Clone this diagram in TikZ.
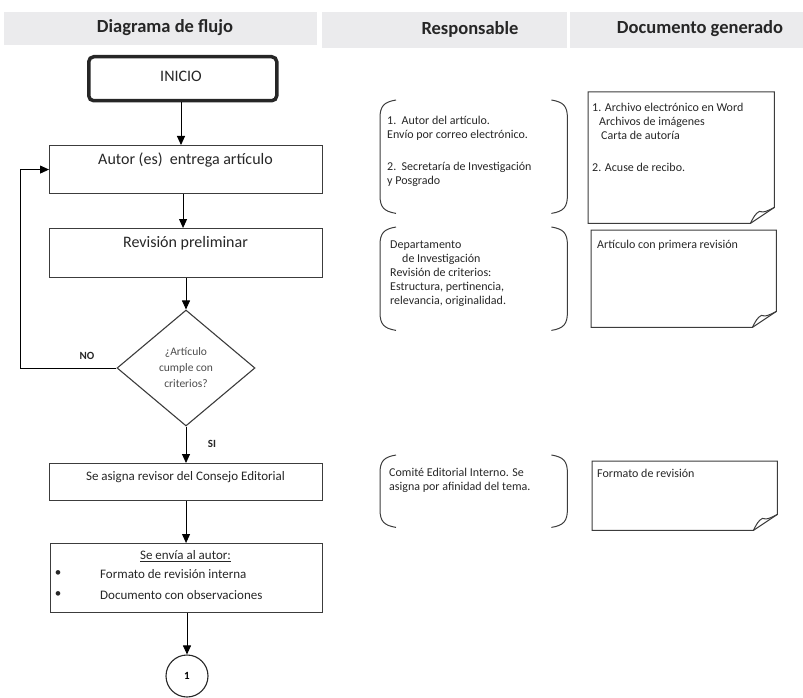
\documentclass[tikz,border=0pt]{standalone}
\usepackage{fontspec}
\setmainfont{Carlito}
\usetikzlibrary{arrows.meta,shapes.geometric,calc}
\definecolor{hdgray}{HTML}{EBEBED}
\definecolor{ln}{HTML}{3C3C3C}
\newcommand\drawbrk[1]{%
 \draw[brk] ([xshift=16pt]#1.north west) .. controls ([xshift=4pt,yshift=-2pt]#1.north west) and ([yshift=-6pt]#1.north west) .. ([yshift=-18pt]#1.north west) -- ([yshift=18pt]#1.south west) .. controls ([yshift=6pt]#1.south west) and ([xshift=4pt,yshift=2pt]#1.south west) .. ([xshift=16pt]#1.south west);
 \draw[brk] ([xshift=-16pt]#1.north east) .. controls ([xshift=-4pt,yshift=-2pt]#1.north east) and ([yshift=-6pt]#1.north east) .. ([yshift=-18pt]#1.north east) -- ([yshift=18pt]#1.south east) .. controls ([yshift=6pt]#1.south east) and ([xshift=-4pt,yshift=2pt]#1.south east) .. ([xshift=-16pt]#1.south east);}
\newcommand\drawdoc[1]{%
 \draw[docln] (#1.north west) -- (#1.north east) -- ([yshift=16pt]#1.south east) -- ([xshift=-24pt]#1.south east) -- (#1.south west) -- cycle;
 \draw[docln] ([xshift=-24pt]#1.south east) .. controls ([xshift=-21pt,yshift=6pt]#1.south east) and ([xshift=-19pt,yshift=10pt]#1.south east) .. ([xshift=-15pt,yshift=12pt]#1.south east) .. controls ([xshift=-10pt,yshift=11pt]#1.south east) .. ([yshift=16pt]#1.south east);}
\begin{document}
\begin{tikzpicture}[x=1pt,y=-1pt,
  hd/.style={fill=hdgray,draw=none,inner sep=0pt,anchor=north west},
  hdtext/.style={font=\fontsize{18.5}{22}\selectfont\bfseries,text=black!85},
  box/.style={draw=ln,line width=1.1pt,rectangle,inner sep=0pt,anchor=north west},
  btext/.style={font=\fontsize{16}{19}\selectfont,text=black!85,inner sep=0pt},
  stext/.style={font=\fontsize{13}{15}\selectfont,text=black!85,inner sep=0pt},
  rtext/.style={font=\fontsize{12}{14}\selectfont,text=black!85,inner sep=0pt,align=left,anchor=north west},
  lbl/.style={font=\fontsize{11}{13}\selectfont\bfseries,text=black!85,inner sep=0pt},
  arr/.style={draw=black,line width=0.9pt,-{Triangle[width=8pt,length=9pt]}},
  brk/.style={draw=ln,line width=1pt},
  docln/.style={draw=ln,line width=1pt,line join=miter},
  area/.style={draw=none,inner sep=0pt,anchor=north west}]
\useasboundingbox (0,0) rectangle (803,698);
% headers
\node[hd,minimum width=313pt,minimum height=33pt] (h1) at (4,12) {};
\node[hd,minimum width=245pt,minimum height=36pt] (h2) at (322,12) {};
\node[hd,minimum width=233pt,minimum height=36pt] (h3) at (570,12) {};
\node[hdtext] (h1t) at (165,28) {Diagrama de flujo};
\node[hdtext] (h2t) at (470,29) {Responsable};
\node[hdtext] (h3t) at (700,29) {Documento generado};
% flow
\node[draw=black!85,line width=3.5pt,rounded corners=5pt,minimum width=188pt,minimum height=44pt,inner sep=0pt,anchor=north west] (ini) at (87,55) {};
\node[btext] (init) at (181,76) {INICIO};
\node[box,minimum width=273pt,minimum height=48pt] (b1) at (49,145) {};
\node[btext] (b1t) at (185.5,160) {Autor (es)\ \ entrega artículo};
\node[box,minimum width=273pt,minimum height=49pt] (b2) at (49,228) {};
\node[btext] (b2t) at (185.5,243) {Revisión preliminar};
\node[diamond,draw=ln,line width=1.1pt,minimum width=138pt,minimum height=116pt,inner sep=0pt] (d) at (186,368) {};
\node[font=\fontsize{11.5}{16}\selectfont,text=black!70,align=center,inner sep=0pt] (dt) at (186,368) {¿Artículo\\cumple con\\criterios?};
\node[box,minimum width=273pt,minimum height=37pt] (b3) at (49,463) {};
\node[stext] (b3t) at (185.5,477) {Se asigna revisor del Consejo Editorial};
\node[box,minimum width=272pt,minimum height=69pt] (b4) at (50,543) {};
\node[stext] (b4t) at (185.5,556) {\underline{Se envía al autor:}};
\node[stext] (bu1) at (58,574) {•};
\node[stext] (bu2) at (58,595) {•};
\node[stext,anchor=west] (b4a) at (100,574) {Formato de revisión interna};
\node[stext,anchor=west] (b4b) at (100,595) {Documento con observaciones};
\node[circle,draw=black!85,line width=1.1pt,minimum size=42pt,inner sep=0pt,font=\fontsize{11}{13}\selectfont\bfseries] (c1) at (187,676) {1};
\node[lbl] (no) at (87,356) {NO};
\node[lbl] (si) at (212,444) {SI};
% connectors
\draw[arr] (init |- ini.south) -- (init |- b1.north);
\draw[arr] ([xshift=-3pt]b1.south) -- ([xshift=-3pt]b2.north);
\draw[arr] (b2.south -| d.north) -- (d.north);
\draw[arr] (d.south) -- (d.south |- b3.north);
\draw[arr] (b3.south) -- (b3.south |- b4.north);
\draw[arr] (c1.north |- b4.south) -- (c1.north);
\draw[arr] (d.west) -- ++(-96,0) |- (b1.west);
% responsible brackets
\node[area,minimum width=187pt,minimum height=113pt] (r1) at (380,100) {};
\drawbrk{r1}
\node[rtext] (r1t) at (387,116) {1.\ \ Autor del artículo.\\Envío por correo electrónico.\\[18pt]2.\ \ Secretaría de Investigación\\y Posgrado};
\node[area,minimum width=187pt,minimum height=103pt] (r2) at (380,227) {};
\drawbrk{r2}
\node[rtext] (r2t) at (390,241) {Departamento\\\hspace*{12pt}de Investigación\\Revisión de criterios:\\Estructura, pertinencia,\\relevancia, originalidad.};
\node[area,minimum width=187pt,minimum height=72pt] (r3) at (380,455) {};
\drawbrk{r3}
\node[rtext] (r3t) at (389,468) {Comité Editorial Interno. Se\\asigna por afinidad del tema.};
% documents
\node[area,minimum width=186pt,minimum height=131pt] (g1) at (588,92) {};
\drawdoc{g1}
\node[rtext] (g1t) at (592,103) {1. Archivo electrónico en Word\\\hspace*{7pt}Archivos de imágenes\\\hspace*{9pt}Carta de autoría\\[18pt]2. Acuse de recibo.};
\node[area,minimum width=185pt,minimum height=97pt] (g2) at (591,230) {};
\drawdoc{g2}
\node[rtext] (g2t) at (597,240) {Artículo con primera revisión};
\node[area,minimum width=185pt,minimum height=69pt] (g3) at (592,461) {};
\drawdoc{g3}
\node[rtext] (g3t) at (597,469) {Formato de revisión};
\end{tikzpicture}
\end{document}
